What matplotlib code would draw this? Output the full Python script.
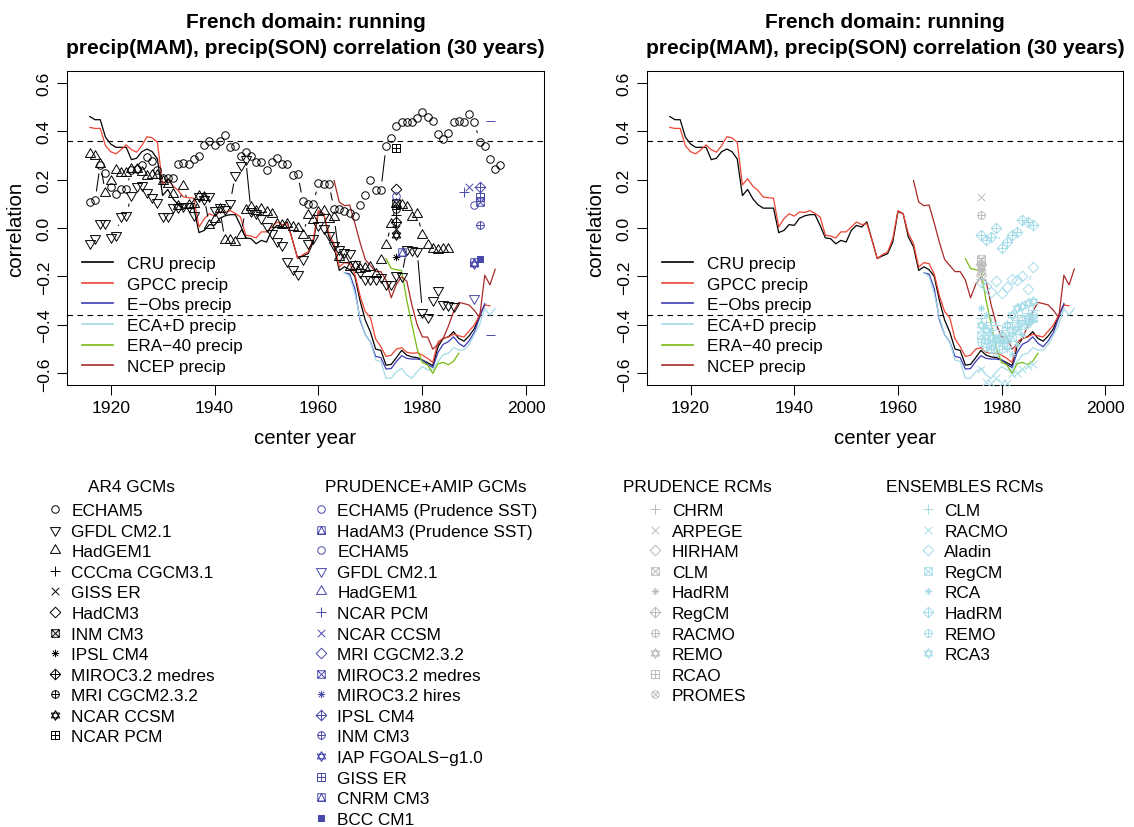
import numpy as np
import matplotlib
matplotlib.use("Agg")
import matplotlib.pyplot as plt
from matplotlib.path import Path
from matplotlib.lines import Line2D
from matplotlib.collections import LineCollection

plt.rcParams['font.family'] = ['Liberation Sans', 'DejaVu Sans']
plt.rcParams['axes.unicode_minus'] = True

# ---------------- observations (running 30-yr correlation, center year) ----------------
cru_years = list(range(1916, 1993))
cru = [0.460, 0.447, 0.447, 0.375, 0.347, 0.333, 0.333, 0.333, 0.282, 0.288,
       0.315, 0.326, 0.315, 0.285, 0.134, 0.159, 0.121, 0.096, 0.082, 0.082,
       0.082, -0.019, -0.010, 0.014, 0.011, 0.040, 0.050, 0.055, 0.055, 0.010,
       -0.041, -0.044, -0.065, -0.051, -0.058, -0.010, 0.011, 0.004, 0.025, -0.050,
       -0.126, -0.115, -0.106, -0.058, 0.068, 0.059, -0.037, -0.078, -0.175, -0.160,
       -0.172, -0.200, -0.300, -0.380, -0.430, -0.500, -0.505, -0.566, -0.563, -0.535,
       -0.505, -0.525, -0.532, -0.535, -0.545, -0.556, -0.568, -0.490, -0.456, -0.449,
       -0.428, -0.456, -0.467, -0.445, -0.415, -0.360, -0.316]
gpcc_years = list(range(1916, 1994))
gpcc = [0.415, 0.411, 0.411, 0.340, 0.315, 0.306, 0.323, 0.343, 0.323, 0.313,
        0.340, 0.377, 0.372, 0.354, 0.178, 0.203, 0.173, 0.155, 0.128, 0.125,
        0.123, 0.004, 0.038, 0.059, 0.049, 0.066, 0.064, 0.072, 0.060, 0.045,
        -0.030, -0.033, -0.041, -0.016, -0.016, 0.004, 0.025, 0.014, 0.018, -0.050,
        -0.126, -0.110, -0.099, -0.044, 0.072, 0.059, -0.023, -0.065, -0.161, -0.143,
        -0.147, -0.190, -0.280, -0.345, -0.370, -0.458, -0.490, -0.530, -0.525, -0.500,
        -0.494, -0.513, -0.517, -0.515, -0.525, -0.538, -0.555, -0.470, -0.455, -0.450,
        -0.438, -0.445, -0.450, -0.425, -0.400, -0.360, -0.318, -0.321]
eobs_years = list(range(1965, 1993))
eobs = [-0.185, -0.190, -0.250, -0.380, -0.440, -0.470, -0.530, -0.535, -0.582, -0.580,
        -0.551, -0.527, -0.538, -0.541, -0.541, -0.545, -0.563, -0.576, -0.513, -0.480,
        -0.469, -0.449, -0.476, -0.490, -0.465, -0.430, -0.370, -0.312]
ecad_years = list(range(1965, 1995))
ecad = [-0.185, -0.200, -0.270, -0.370, -0.440, -0.469, -0.545, -0.551, -0.620, -0.620,
        -0.593, -0.579, -0.607, -0.620, -0.593, -0.572, -0.586, -0.586, -0.551, -0.524,
        -0.517, -0.494, -0.504, -0.504, -0.480, -0.440, -0.400, -0.332, -0.360, -0.332]
era40_years = list(range(1973, 1988))
era40 = [-0.126, -0.167, -0.172, -0.176, -0.300, -0.400, -0.500, -0.555, -0.565, -0.600,
         -0.560, -0.555, -0.564, -0.550, -0.517]
ncep_years = list(range(1963, 1995))
ncep = [0.196, 0.107, 0.092, 0.095, 0.020, -0.060, -0.130, -0.155, -0.180, -0.180,
        -0.215, -0.288, -0.232, -0.202, -0.220, -0.320, -0.400, -0.450, -0.450, -0.500,
        -0.480, -0.455, -0.405, -0.345, -0.307, -0.312, -0.318, -0.340, -0.370, -0.195,
        -0.235, -0.170]

obs_names = ['CRU precip', 'GPCC precip', 'E\u2212Obs precip', 'ECA+D precip',
             'ERA\u221240 precip', 'NCEP precip']
obs_colors = ['#000000', '#EE4433', '#3C3CB4', '#A4DCE8', '#77BB11', '#AA2A2A']

# ---------------- AR4 GCMs (left panel) ----------------
echam5_years = list(range(1916, 1996))
echam5 = [0.107, 0.114, 0.262, 0.227, 0.170, 0.141, 0.159, 0.161, 0.241, 0.244,
          0.260, 0.292, 0.278, 0.240, 0.205, 0.205, 0.205, 0.265, 0.270, 0.265,
          0.285, 0.296, 0.343, 0.360, 0.343, 0.360, 0.383, 0.333, 0.340, 0.299,
          0.313, 0.299, 0.274, 0.274, 0.241, 0.274, 0.290, 0.263, 0.263, 0.219,
          0.223, 0.110, 0.100, 0.100, 0.186, 0.181, 0.183, 0.077, 0.077, 0.070,
          0.063, 0.049, 0.093, 0.138, 0.199, 0.155, 0.155, 0.337, 0.371, 0.420,
          0.436, 0.436, 0.439, 0.452, 0.480, 0.457, 0.443, 0.388, 0.368, 0.392,
          0.436, 0.443, 0.439, 0.470, 0.439, 0.356, 0.337, 0.285, 0.244, 0.260]
gfdl_years = list(range(1916, 1987))
gfdl = [-0.062, -0.041, 0.022, 0.022, -0.036, -0.027, 0.049, 0.052, 0.137, 0.173,
        0.176, 0.150, 0.130, 0.107, 0.049, 0.049, 0.086, 0.086, 0.090, 0.090,
        0.052, 0.134, 0.120, 0.134, 0.073, 0.086, 0.079, 0.104, 0.220, 0.262,
        0.285, 0.070, 0.060, 0.040, 0.010, -0.020, -0.055, -0.071, -0.137, -0.171,
        -0.188, -0.126, -0.060, -0.040, 0.011, 0.000, -0.030, -0.070, -0.085, -0.100,
        -0.102, -0.150, -0.180, -0.209, -0.209, -0.209, -0.202, -0.230, -0.230, -0.192,
        -0.200, -0.085, -0.092, -0.096, -0.346, -0.367, -0.298, -0.257, -0.312, -0.316,
        -0.322]
hadgem_years = list(range(1916, 1986))
hadgem = [0.306, 0.299, 0.264, 0.145, 0.196, 0.241, 0.225, 0.229, 0.243, 0.243,
          0.231, 0.214, 0.219, 0.219, 0.196, 0.182, 0.140, 0.090, 0.173, 0.093,
          0.100, 0.134, 0.127, 0.011, 0.038, 0.077, -0.051, -0.051, -0.058, -0.030,
          0.076, 0.086, 0.072, 0.079, 0.068, 0.058, 0.018, 0.014, 0.018, 0.004,
          0.000, -0.030, 0.052, 0.031, 0.066, 0.072, 0.038, 0.045, -0.120, -0.126,
          -0.160, -0.157, -0.168, -0.165, -0.160, -0.190, -0.133, -0.071, 0.017, 0.100,
          0.093, 0.086, 0.045, 0.059, -0.030, -0.070, -0.085, -0.092, -0.085, -0.085]
# single-window AR4 models (center year, value)
ar4_single_names = ['CCCma CGCM3.1', 'GISS ER', 'HadCM3', 'INM CM3', 'IPSL CM4',
                    'MIROC3.2 medres', 'MRI CGCM2.3.2', 'NCAR CCSM', 'NCAR PCM']
ar4_single_year = [1975, 1975, 1975, 1975, 1975, 1975, 1975, 1975, 1975]
ar4_single_val = [0.052, -0.003, 0.162, 0.104, -0.120, 0.024, 0.079, -0.030, 0.329]

ar4_names = ['ECHAM5', 'GFDL CM2.1', 'HadGEM1', 'CCCma CGCM3.1', 'GISS ER', 'HadCM3',
             'INM CM3', 'IPSL CM4', 'MIROC3.2 medres', 'MRI CGCM2.3.2', 'NCAR CCSM', 'NCAR PCM']
ar4_pch = [1, 6, 2, 3, 4, 5, 7, 8, 9, 10, 11, 12]

# ---------------- PRUDENCE + AMIP GCMs (left panel, blue) ----------------
amip_names = ['ECHAM5 (Prudence SST)', 'HadAM3 (Prudence SST)', 'ECHAM5', 'GFDL CM2.1',
              'HadGEM1', 'NCAR PCM', 'NCAR CCSM', 'MRI CGCM2.3.2', 'MIROC3.2 medres',
              'MIROC3.2 hires', 'IPSL CM4', 'INM CM3', 'IAP FGOALS\u2212g1.0', 'GISS ER',
              'CNRM CM3', 'BCC CM1']
amip_pch = [1, 14, 1, 6, 2, 3, 4, 5, 7, 8, 9, 10, 11, 12, 14, 15]
amip_year = [1975, 1976, 1990, 1990, None, 1988, 1989, None, 1991, None, 1991, 1991, 1990, 1991, 1990, 1991]
amip_val = [0.131, -0.100, 0.093, -0.288, None, 0.148, 0.168, None, 0.107, None, 0.168, 0.011, -0.150, 0.130, -0.140, -0.126]
amip_range_year = [1993, 1993]
amip_range_val = [0.443, -0.442]

# ---------------- PRUDENCE RCMs (right panel, grey) ----------------
prud_names = ['CHRM', 'ARPEGE', 'HIRHAM', 'CLM', 'HadRM', 'RegCM', 'RACMO', 'REMO', 'RCAO', 'PROMES']
prud_pch = [3, 4, 5, 7, 8, 9, 10, 11, 12, 13]
prud_year = [1976] * 10
prud_val = [-0.210, 0.127, -0.195, -0.130, -0.170, -0.150, 0.055, -0.160, -0.140, -0.180]

# ---------------- ENSEMBLES RCMs (right panel, light blue) ----------------
ens_names = ['CLM', 'RACMO', 'Aladin', 'RegCM', 'RCA', 'HadRM', 'REMO', 'RCA3']
ens_pch = [3, 4, 5, 7, 8, 9, 10, 11]
ens_years = list(range(1976, 1987))
ens_clm = [-0.370, -0.400, -0.390, -0.400, -0.420, -0.410, -0.390, -0.380, -0.360, -0.350, -0.340]
ens_racmo = [-0.582, -0.634, -0.640, -0.620, -0.640, -0.640, -0.604, -0.600, -0.580, -0.570, -0.560]
ens_aladin = [-0.222, -0.240, -0.264, -0.220, -0.270, -0.243, -0.209, -0.216, -0.198, -0.250, -0.161]
ens_regcm = [-0.440, -0.460, -0.480, -0.470, -0.460, -0.480, -0.450, -0.420, -0.400, -0.380, -0.370]
ens_rca = [-0.330, -0.360, -0.420, -0.450, -0.470, -0.500, -0.520, -0.480, -0.440, -0.400, -0.380]
ens_hadrm = [-0.030, -0.051, -0.037, 0.000, -0.082, -0.058, -0.030, -0.017, 0.031, 0.025, 0.011]
ens_remo = [-0.470, -0.490, -0.500, -0.510, -0.500, -0.460, -0.430, -0.410, -0.380, -0.370, -0.360]
ens_rca3 = [-0.400, -0.420, -0.450, -0.460, -0.440, -0.400, -0.360, -0.330, -0.320, -0.310, -0.300]
ens_series = [ens_clm, ens_racmo, ens_aladin, ens_regcm, ens_rca, ens_hadrm, ens_remo, ens_rca3]

BLACK = '#000000'
BLUE = '#4848AC'
GREY = '#BBBBBB'
LBLUE = '#A4DCE8'

# ---------------- R-like plotting symbols ----------------
def _circle(r=1.0, n=40):
    t = np.linspace(0, 2 * np.pi, n + 1)
    return list(zip(r * np.cos(t), r * np.sin(t)))

S2 = np.sqrt(2)
TRI_UP = [(0, 1.555), (1.347, -0.778), (-1.347, -0.778), (0, 1.555)]
TRI_DN = [(0, -1.555), (1.347, 0.778), (-1.347, 0.778), (0, -1.555)]
SQ = [(-1, -1), (1, -1), (1, 1), (-1, 1), (-1, -1)]
DIAM = [(S2, 0), (0, S2), (-S2, 0), (0, -S2), (S2, 0)]
R11 = 1.3
STAR_UP = [(0, R11), (0.866 * R11, -0.5 * R11), (-0.866 * R11, -0.5 * R11), (0, R11)]
STAR_DN = [(0, -R11), (0.866 * R11, 0.5 * R11), (-0.866 * R11, 0.5 * R11), (0, -R11)]

SHAPES = {
    1: ([_circle()], 1.0, False),
    2: ([TRI_UP], 1.555, False),
    3: ([[(-S2, 0), (S2, 0)], [(0, -S2), (0, S2)]], S2, False),
    4: ([[(-1, -1), (1, 1)], [(-1, 1), (1, -1)]], 1.0, False),
    5: ([DIAM], S2, False),
    6: ([TRI_DN], 1.555, False),
    7: ([SQ, [(-1, -1), (1, 1)], [(-1, 1), (1, -1)]], 1.0, False),
    8: ([[(-1, 0), (1, 0)], [(0, -1), (0, 1)], [(-0.707, -0.707), (0.707, 0.707)],
         [(-0.707, 0.707), (0.707, -0.707)]], 1.0, False),
    9: ([DIAM, [(-S2, 0), (S2, 0)], [(0, -S2), (0, S2)]], S2, False),
    10: ([_circle(), [(-1, 0), (1, 0)], [(0, -1), (0, 1)]], 1.0, False),
    11: ([STAR_UP, STAR_DN], R11, False),
    12: ([SQ, [(-1, 0), (1, 0)], [(0, -1), (0, 1)]], 1.0, False),
    13: ([_circle(), [(-0.707, -0.707), (0.707, 0.707)], [(-0.707, 0.707), (0.707, -0.707)]], 1.0, False),
    14: ([SQ, [(-1, -1), (1, -1), (0, 1), (-1, -1)]], 1.0, False),
    15: ([SQ], 0.9, True),
    'dash': ([[(-1.2, 0), (1.2, 0)]], 1.2, False),
}
R_PT = 2.7  # symbol radius in points


def symbol(pch):
    polys, ext, filled = SHAPES[pch]
    verts, codes = [], []
    for p in polys:
        verts.extend(p)
        codes.extend([Path.MOVETO] + [Path.LINETO] * (len(p) - 1))
    return Path(verts, codes), 2 * ext * R_PT, filled


def sym_kwargs(pch, color):
    path, ms, filled = symbol(pch)
    return dict(marker=path, markersize=ms, markeredgecolor=color,
                markerfacecolor=(color if filled else 'none'), markeredgewidth=0.7,
                linestyle='none')


def draw_points(ax, xs, ys, pch, color, gap_px=9.0, connect=True):
    xs = np.asarray(xs, float)
    ys = np.asarray(ys, float)
    ax.plot(xs, ys, zorder=4, **sym_kwargs(pch, color))
    if connect and len(xs) > 1:
        # R type="b": segments between points, with a gap around each symbol
        pts = ax.transData.transform(np.column_stack([xs, ys]))
        segs = []
        inv = ax.transData.inverted()
        for a, b in zip(pts[:-1], pts[1:]):
            d = b - a
            L = np.hypot(*d)
            if L > 2 * gap_px:
                u = d / L
                p0 = a + u * gap_px
                p1 = b - u * gap_px
                segs.append(inv.transform(np.array([p0, p1])))
        if segs:
            ax.add_collection(LineCollection(segs, colors=color, linewidths=0.75, zorder=3))


# ---------------- figure ----------------
fig = plt.figure(figsize=(11.34, 8.28), dpi=100)
H = 828.0
W = 1134.0
ax1 = fig.add_axes([67 / W, 1 - 386 / H, 477 / W, 314 / H])
ax2 = fig.add_axes([647 / W, 1 - 386 / H, 476 / W, 314 / H])

title = "French domain: running\nprecip(MAM), precip(SON) correlation (30 years)"
obs_x = [cru_years, gpcc_years, eobs_years, ecad_years, era40_years, ncep_years]
obs_y = [cru, gpcc, eobs, ecad, era40, ncep]

for ax in (ax1, ax2):
    ax.set_xlim(1911.6, 2003.4)
    ax.set_ylim(-0.648, 0.648)
    ax.set_xticks([1920, 1940, 1960, 1980, 2000])
    ax.set_yticks([-0.6, -0.4, -0.2, 0.0, 0.2, 0.4, 0.6])
    ax.set_yticklabels(['\u22120.6', '\u22120.4', '\u22120.2', '0.0', '0.2', '0.4', '0.6'],
                       rotation=90, va='center')
    ax.tick_params(length=7, width=0.75, labelsize=12.6, pad=4, colors='black')
    for s in ax.spines.values():
        s.set_linewidth(0.75)
    ax.axhline(0.361, color='black', lw=0.8, ls=(0, (5, 4)), zorder=2)
    ax.axhline(-0.361, color='black', lw=0.8, ls=(0, (5, 4)), zorder=2)
    handles = []
    for xs, ys, nm, c in zip(obs_x, obs_y, obs_names, obs_colors):
        ax.plot(xs, ys, color=c, lw=0.9, zorder=3, label=nm)
        handles.append(Line2D([], [], color=c, lw=1.2))
    ax.set_title(title, fontsize=15, fontweight='bold', pad=13, linespacing=1.48)
    ax.set_xlabel('center year', fontsize=14.7)
    ax.set_ylabel('correlation', fontsize=14.7)
    ax.xaxis.set_label_coords(0.5, -0.138)
    ax.yaxis.set_label_coords(-0.087, 0.5)
    leg = ax.legend(handles, obs_names, loc='upper left', bbox_to_anchor=(0.031, 0.411),
                    frameon=False, fontsize=12.3, handlelength=1.8, handletextpad=0.85,
                    labelspacing=0.33, borderpad=0, borderaxespad=0)
    leg.set_zorder(6)

# left panel: AR4 GCMs
draw_points(ax1, echam5_years, echam5, 1, BLACK)
draw_points(ax1, gfdl_years, gfdl, 6, BLACK)
draw_points(ax1, hadgem_years, hadgem, 2, BLACK)
for nm, yr, v in zip(ar4_single_names, ar4_single_year, ar4_single_val):
    draw_points(ax1, [yr], [v], ar4_pch[ar4_names.index(nm)], BLACK, connect=False)
# PRUDENCE + AMIP GCMs
for pch, yr, v in zip(amip_pch, amip_year, amip_val):
    if yr is not None:
        draw_points(ax1, [yr], [v], pch, BLUE, connect=False)
draw_points(ax1, amip_range_year, amip_range_val, 'dash', BLUE, connect=False)

# right panel: RCMs
for pch, yr, v in zip(prud_pch, prud_year, prud_val):
    draw_points(ax2, [yr], [v], pch, GREY, connect=False)
for pch, ser in zip(ens_pch, ens_series):
    draw_points(ax2, ens_years, ser, pch, LBLUE)


# ---------------- symbol legends below the panels ----------------
def sym_legend(names, pchs, color, title_txt, x_px, y_px):
    hs = [Line2D([], [], **sym_kwargs(p, color)) for p in pchs]
    lg = fig.legend(hs, names, title=title_txt, loc='upper left',
                    bbox_to_anchor=(x_px / W, 1 - y_px / H), frameon=False,
                    fontsize=12.4, title_fontsize=12.4, handlelength=0.8,
                    handletextpad=0.55, labelspacing=0.32, borderpad=0,
                    borderaxespad=0, markerscale=1.0)
    lg._legend_box.sep = 6.6
    return lg

sym_legend(ar4_names, ar4_pch, BLACK, 'AR4 GCMs', 48, 480)
sym_legend(amip_names, amip_pch, BLUE, 'PRUDENCE+AMIP GCMs', 314, 480)
sym_legend(prud_names, prud_pch, GREY, 'PRUDENCE RCMs', 623, 480)
sym_legend(ens_names, ens_pch, LBLUE, 'ENSEMBLES RCMs', 886, 480)

fig.savefig('out.png', dpi=100)
